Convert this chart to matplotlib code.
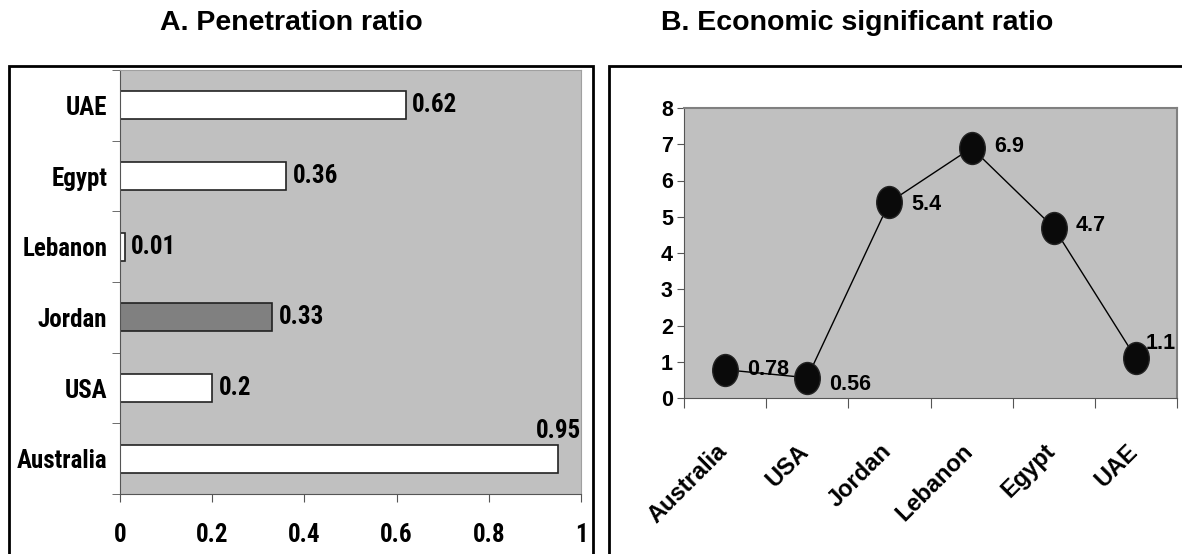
import matplotlib.pyplot as plt
from matplotlib import font_manager
from matplotlib.patches import Rectangle
from matplotlib.path import Path
from matplotlib.markers import MarkerStyle
from matplotlib.transforms import Affine2D
import numpy as np

countries = ['Australia', 'USA', 'Jordan', 'Lebanon', 'Egypt', 'UAE']
penetration = [0.95, 0.2, 0.33, 0.01, 0.36, 0.62]
pen_labels = ['0.95', '0.2', '0.33', '0.01', '0.36', '0.62']
economic = [0.78, 0.56, 5.4, 6.9, 4.7, 1.1]
eco_labels = ['0.78', '0.56', '5.4', '6.9', '4.7', '1.1']
bar_colors = ['white', 'white', '#808080', 'white', 'white', 'white']

plt.rcParams['font.family'] = ['Liberation Sans', 'DejaVu Sans']

# the left panel uses a condensed face if one is installed
installed = {f.name for f in font_manager.fontManager.ttflist}
narrow, nsize = ['Liberation Sans', 'DejaVu Sans'], 16
for cand, size in [('Liberation Sans Narrow', 18), ('Roboto Condensed', 18),
                   ('DejaVu Sans Condensed', 16)]:
    if cand in installed:
        narrow, nsize = [cand, 'Liberation Sans'], size
        break

W, H = 1182, 554
fig = plt.figure(figsize=(W / 100, H / 100), dpi=100)

def fx(px):
    return px / W

def fy(py):
    return 1 - py / H

# outer frames
fig.patches.append(Rectangle((fx(9), fy(600)), fx(593) - fx(9), fy(66) - fy(600),
                             transform=fig.transFigure, fill=False, lw=2, ec='black'))
fig.patches.append(Rectangle((fx(609), fy(600)), fx(1200) - fx(609), fy(66) - fy(600),
                             transform=fig.transFigure, fill=False, lw=2, ec='black'))

fig.text(fx(291), fy(23), 'A. Penetration ratio', ha='center', va='center',
         fontsize=20.5, fontweight='bold')
fig.text(fx(857), fy(23), 'B. Economic significant ratio', ha='center', va='center',
         fontsize=20.5, fontweight='bold')

# ---- A: horizontal bars
ax1 = fig.add_axes([fx(120), fy(494), fx(581) - fx(120), fy(70) - fy(494)])
ax1.set_facecolor('#C0C0C0')
y = np.arange(len(countries))
ax1.barh(y, penetration, height=0.4, color=bar_colors, edgecolor='#222222', lw=1.2)
ax1.set_xlim(0, 1)
ax1.set_ylim(-0.5, len(countries) - 0.5)
ax1.set_xticks(np.arange(0, 1.01, 0.2))
ax1.set_xticklabels(['0', '0.2', '0.4', '0.6', '0.8', '1'])
ax1.set_yticks(y)
ax1.set_yticklabels(countries)
ax1.set_yticks(np.arange(-0.5, len(countries), 1), minor=True)
ax1.tick_params(axis='y', which='major', length=0, pad=9)
ax1.tick_params(axis='y', which='minor', length=6, color='#555555')
ax1.tick_params(axis='x', length=6, color='#555555', pad=15)
for lab in ax1.get_yticklabels():
    lab.set_family(narrow)
    lab.set_fontweight('bold')
    lab.set_fontsize(nsize)
for lab in ax1.get_xticklabels():
    lab.set_family(narrow)
    lab.set_fontweight('bold')
    lab.set_fontsize(nsize)
for s in ['top', 'right']:
    ax1.spines[s].set_color('#A0A0A0')
for s in ['left', 'bottom']:
    ax1.spines[s].set_color('#555555')
for yi, v, t in zip(y, penetration, pen_labels):
    if v > 0.9:
        ax1.text(v + 0.05, yi + 0.22, t, ha='right', va='bottom', family=narrow,
                 fontweight='bold', fontsize=nsize)
    else:
        ax1.text(v + 0.014, yi, t, ha='left', va='center', family=narrow,
                 fontweight='bold', fontsize=nsize)

# ---- B: line with markers
ax2 = fig.add_axes([fx(684), fy(398), fx(1177) - fx(684), fy(108) - fy(398)])
ax2.set_facecolor('#C0C0C0')
xpos = np.arange(len(countries)) + 0.5
ellipse = Path.unit_circle().transformed(Affine2D().scale(0.8, 1.0))
ax2.plot(xpos, economic, color='black', lw=1, marker=MarkerStyle(ellipse),
         markersize=23, markerfacecolor='#0a0a0a', markeredgecolor='#222222', zorder=3)
ax2.set_xlim(0, len(countries))
ax2.set_ylim(0, 8)
ax2.set_yticks(range(0, 9))
ax2.set_xticks(range(0, len(countries) + 1))
ax2.set_xticklabels([])
# category names sit a little left of the point they name
ax2.set_xticks(xpos - 0.12, minor=True)
ax2.set_xticklabels(countries, minor=True, rotation=45, ha='right',
                    rotation_mode='anchor', fontsize=17, fontweight='bold')
ax2.tick_params(axis='x', which='minor', length=0, pad=30)
ax2.tick_params(axis='x', which='major', length=7, color='#555555')
ax2.tick_params(axis='y', length=5, color='#555555', pad=3)
for lab in ax2.get_yticklabels():
    lab.set_fontweight('bold')
    lab.set_fontsize(15.5)
for s in ['top', 'right']:
    ax2.spines[s].set_color('#808080')
    ax2.spines[s].set_linewidth(1.5)
for s in ['left', 'bottom']:
    ax2.spines[s].set_color('#555555')
offsets = [(0.27, 0.0), (0.27, -0.2), (0.27, -0.05), (0.27, 0.05), (0.27, 0.05), (0.12, 0.4)]
for xi, v, t, (dx, dy) in zip(xpos, economic, eco_labels, offsets):
    ax2.text(xi + dx, v + dy, t, ha='left', va='center', fontsize=15.5, fontweight='bold',
             zorder=4)

fig.savefig('out.png', dpi=100)
